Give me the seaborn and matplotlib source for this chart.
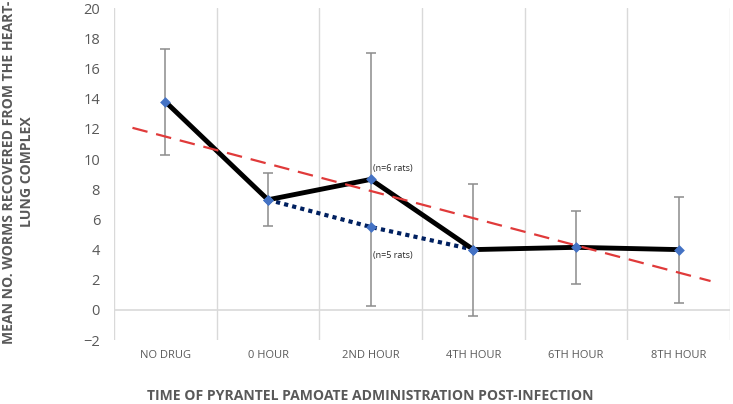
import numpy as np
import pandas as pd
import matplotlib
matplotlib.use("Agg")
import matplotlib.pyplot as plt
import seaborn as sns

# === Data ===
categories = ["NO DRUG", "0 HOUR", "2ND HOUR", "4TH HOUR", "6TH HOUR", "8TH HOUR"]
mean_worms = [13.8, 7.3, 8.65, 4.0, 4.15, 4.0]
err_upper = [17.3, 9.05, 17.0, 8.35, 6.55, 7.5]
err_lower = [10.3, 5.55, 0.25, -0.4, 1.75, 0.45]
alt_worms = [np.nan, 7.3, 5.5, 4.0, np.nan, np.nan]  # n=5 rats variant

pos = np.arange(len(categories))
df = pd.DataFrame({"pos": pos, "mean": mean_worms, "alt": alt_worms})

sns.set_style("white")
plt.rcParams["font.family"] = ["Open Sans", "DejaVu Sans"]

fig = plt.figure(figsize=(7.33, 4.04), dpi=100)
ax = fig.add_axes([0.1555, 0.158, 0.8405, 0.822])

grey_txt = "#595959"
grid_c = "#d9d9d9"

# vertical gridlines at category boundaries, zero axis line
for b in np.arange(-0.5, len(categories) + 0.5, 1):
    ax.axvline(b, color=grid_c, lw=1, zorder=0)
ax.axhline(0, color=grid_c, lw=1.2, zorder=0)

# error bars
yerr = [np.array(mean_worms) - np.array(err_lower), np.array(err_upper) - np.array(mean_worms)]
ax.errorbar(pos, mean_worms, yerr=yerr, fmt="none", ecolor="#8c8c8c", elinewidth=1.1,
            capsize=3.5, capthick=1.1, zorder=1)

# dotted (n=5) series
sub = df.dropna(subset=["alt"])
sns.lineplot(data=sub, x="pos", y="alt", ax=ax, color="#002060", lw=3,
             linestyle=(0, (1, 1)), zorder=2)

# main series
sns.lineplot(data=df, x="pos", y="mean", ax=ax, color="black", lw=3.5, zorder=3)

# linear trendline of the main series
slope, icpt = np.polyfit(pos, mean_worms, 1)
tx = np.array([-0.32, 5.31])
ax.plot(tx, icpt + slope * tx, color="#e03a3a", lw=1.6, dashes=(7, 4), zorder=4)

# markers
ax.scatter(pos, mean_worms, marker="D", s=30, color="#4472C4", zorder=5, linewidths=0)
ax.scatter(sub["pos"], sub["alt"], marker="D", s=30, color="#4472C4", zorder=5, linewidths=0)

ax.text(2.02, 9.2, "(n=6 rats)", fontsize=6.5, color="#262626")
ax.text(2.02, 3.45, "(n=5 rats)", fontsize=6.5, color="#262626")

ax.set_xlim(-0.5, 5.5)
ax.set_ylim(-2, 20)
ax.set_yticks(np.arange(-2, 21, 2))
ax.set_xticks(pos)
ax.set_xticklabels(categories)
ax.tick_params(axis="y", labelsize=10.5, colors=grey_txt, length=0, pad=10)
ax.tick_params(axis="x", labelsize=8, colors=grey_txt, length=0, pad=7)
for s in ax.spines.values():
    s.set_visible(False)
ax.set_xlabel("")
ax.set_ylabel("")

fig.text(370 / 733, 1 - 396 / 404, "TIME OF PYRANTEL PAMOATE ADMINISTRATION POST-INFECTION",
         fontsize=10.1, fontweight="bold", color=grey_txt, ha="center", va="center")
fig.text(18 / 733, 1 - 172 / 404, "MEAN NO. WORMS RECOVERED FROM THE HEART-\nLUNG COMPLEX",
         fontsize=10.1, fontweight="bold", color=grey_txt, ha="center", va="center",
         rotation=90, linespacing=1.3, multialignment="center")

fig.savefig("out.png", dpi=100)
